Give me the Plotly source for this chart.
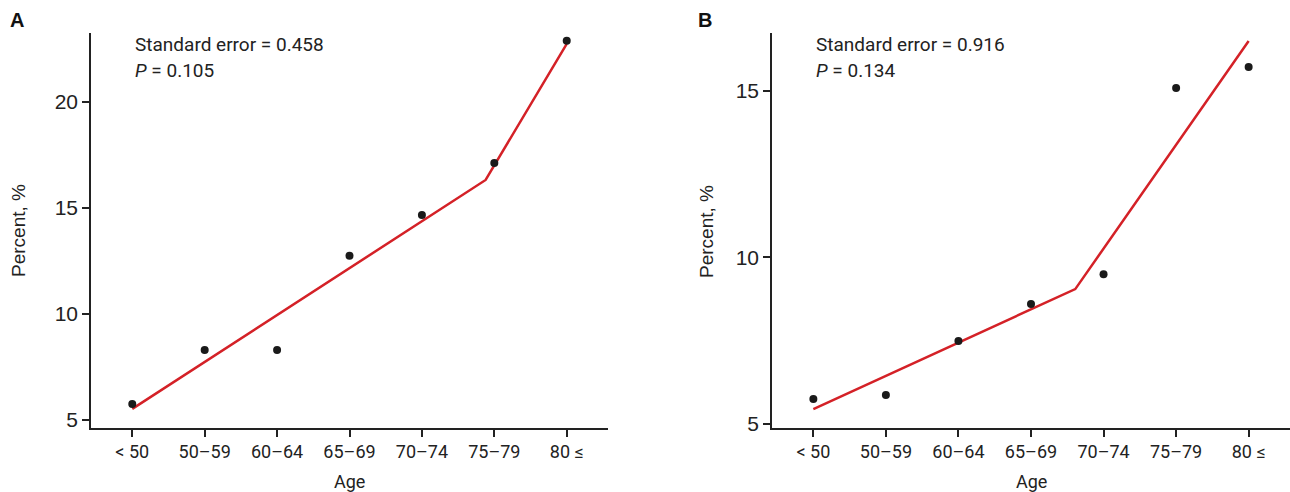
import plotly.graph_objects as go

# ---- data ----
age_groups = ["< 50", "50\u201359", "60\u201364", "65\u201369", "70\u201374", "75\u201379", "80 \u2264"]
pct_a = [5.75, 8.30, 8.30, 12.74, 14.67, 17.12, 22.88]
pct_b = [5.75, 5.87, 7.49, 8.60, 9.50, 15.09, 15.72]
# segmented-regression fit (x in category index units)
fit_a_x = [0, 4.88, 6]
fit_a_y = [5.52, 16.32, 22.74]
fit_b_x = [0, 3.61, 6]
fit_b_y = [5.45, 9.05, 16.50]
ticks_a = [5, 10, 15, 20]
ticks_b = [5, 10, 15]
se_a, p_a = "0.458", "0.105"
se_b, p_b = "0.916", "0.134"

W, H = 1290, 492
FONT = "Roboto"
ARIAL = "Liberation Sans"
INK = "#222"
idx = list(range(len(age_groups)))

fig = go.Figure()
for xs, ys, fx, fy, xa, ya in [
    (idx, pct_a, fit_a_x, fit_a_y, "x", "y"),
    (idx, pct_b, fit_b_x, fit_b_y, "x2", "y2"),
]:
    fig.add_trace(go.Scatter(x=fx, y=fy, mode="lines", xaxis=xa, yaxis=ya,
                             line=dict(color="#d42127", width=2.5), showlegend=False))
    fig.add_trace(go.Scatter(x=xs, y=ys, mode="markers", xaxis=xa, yaxis=ya,
                             marker=dict(color="#1a1a1a", size=8), showlegend=False))

def xaxis(domain, anchor):
    return dict(domain=domain, anchor=anchor, range=[-0.57, 6.57], automargin=False,
                tickvals=idx, ticktext=age_groups, showline=True, linecolor=INK,
                linewidth=1.5, ticks="outside", ticklen=7, tickcolor=INK, tickwidth=1.5,
                showgrid=False, zeroline=False,
                tickfont=dict(family=FONT, size=18, color=INK))

def yaxis(rng, tv, anchor):
    return dict(domain=[64 / H, 1 - 33 / H], anchor=anchor, range=rng, tickvals=tv,
                automargin=False,
                showline=True, linecolor=INK, linewidth=1.5, ticks="outside",
                ticklen=7, tickcolor=INK, tickwidth=1.5, showgrid=False, zeroline=False,
                tickfont=dict(family=ARIAL, size=21, color=INK))

fig.update_layout(
    width=W, height=H, margin=dict(l=0, r=0, t=0, b=0),
    paper_bgcolor="white", plot_bgcolor="white",
    xaxis=xaxis([91 / W, 608 / W], "y"),
    yaxis=yaxis([4.62, 23.25], ticks_a, "x"),
    xaxis2=xaxis([772 / W, 1.0], "y2"),
    yaxis2=yaxis([4.88, 16.74], ticks_b, "x2"),
)

def px_annot(px, py, txt, font, xanchor="center", angle=0):
    fig.add_annotation(x=px / W, y=1 - py / H, xref="paper", yref="paper", text=txt,
                       showarrow=False, xanchor=xanchor, yanchor="middle",
                       textangle=angle, font=font)

# panel labels
px_annot(17, 20, "<b>A</b>", dict(family=ARIAL, size=20, color="#111"))
px_annot(705, 20, "<b>B</b>", dict(family=ARIAL, size=20, color="#111"))

# axis titles
for cx in (349, 1031):
    px_annot(cx, 481, "Age", dict(family=FONT, size=18, color=INK))
for cx in (18, 706):
    px_annot(cx, 231, "Percent, %", dict(family=ARIAL, size=19, color=INK), angle=-90)

# statistics text
for px, se, p in [(133, se_a, p_a), (814, se_b, p_b)]:
    px_annot(px, 45, f"Standard error = {se}", dict(family=FONT, size=19, color=INK), "left")
    px_annot(px, 71, f"<i>P</i> = {p}", dict(family=FONT, size=19, color=INK), "left")

fig.write_html("out.html")
